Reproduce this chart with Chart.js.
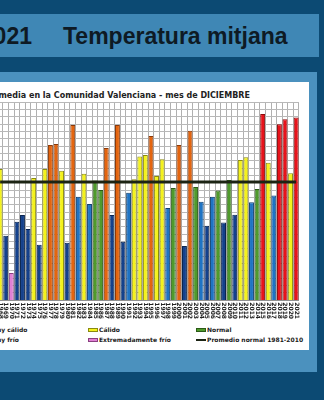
<!DOCTYPE html>
<html>
<head>
<meta charset="utf-8">
<script src="https://cdn.jsdelivr.net/npm/chart.js@4.4.1/dist/chart.umd.min.js"></script>
<style>
  html, body { margin: 0; padding: 0; }
  body { width: 324px; height: 400px; overflow: hidden; position: relative; background: #0c4a73; font-family: "DejaVu Sans", sans-serif; }
  #band { position: absolute; left: 0; top: 14px; width: 319px; height: 43px; background: #3f87b5; }
  .big { position: absolute; top: 25px; font-family: "Liberation Sans Narrow", "Liberation Sans", sans-serif; font-weight: bold; font-size: 23px; line-height: 23px; color: #0e1a24; white-space: nowrap; }
  #panel { position: absolute; left: 0; top: 72px; width: 317px; height: 300px; background: #4b91be; }
  #box { position: absolute; left: 0; top: 82px; width: 309px; height: 268px; background: #fff; }
  #ctitle { position: absolute; right: 74px; top: 91px; font-size: 8px; line-height: 9px; font-weight: bold; color: #222; white-space: nowrap; }
  #wrap { position: absolute; left: -20px; top: 83px; width: 328px; height: 242px; }
  .leg { position: absolute; font-size: 6px; line-height: 8px; font-weight: bold; color: #1a1a1a; white-space: nowrap; }
  .sw { display: inline-block; width: 10px; height: 4px; margin-right: 1px; vertical-align: middle; box-sizing: border-box; }
</style>
</head>
<body>
<div id="band"></div>
<div class="big" style="right:292px">2021</div>
<div class="big" style="left:63px">Temperatura mitjana</div>
<div id="panel"></div>
<div id="box"></div>
<div id="ctitle">Temperatura media en la Comunidad Valenciana - mes de DICIEMBRE</div>
<div id="wrap"><canvas id="chart" width="328" height="242"></canvas></div>
<div id="legend"></div>
<script>
const years = [1968, 1969, 1970, 1971, 1972, 1973, 1974, 1975, 1976, 1977,
  1978, 1979, 1980, 1981, 1982, 1983, 1984, 1985, 1986, 1987,
  1988, 1989, 1990, 1991, 1992, 1993, 1994, 1995, 1996, 1997,
  1998, 1999, 2000, 2001, 2002, 2003, 2004, 2005, 2006, 2007,
  2008, 2009, 2010, 2011, 2012, 2013, 2014, 2015, 2016, 2017,
  2018, 2019, 2020, 2021];

// December mean temperature
const temps = [10.47, 8.19, 6.92, 8.67, 8.90, 8.42, 10.16, 7.88, 10.47, 11.28,
  11.32, 10.41, 7.95, 11.97, 9.52, 10.30, 9.27, 10.07, 9.75, 11.18,
  8.90, 11.97, 7.99, 9.66, 10.12, 10.89, 10.94, 11.59, 10.23, 10.80,
  9.14, 9.82, 11.28, 7.84, 11.77, 9.85, 9.35, 8.53, 9.52, 9.73,
  8.64, 10.09, 8.91, 10.77, 10.87, 9.33, 9.78, 12.34, 10.68, 9.56,
  11.99, 12.16, 10.32, 12.22];

const classes = ['C', 'MF', 'EF', 'MF', 'MF', 'MF', 'C', 'MF', 'C', 'MC',
  'MC', 'C', 'MF', 'MC', 'F', 'C', 'F', 'N', 'N', 'MC',
  'MF', 'MC', 'MF', 'F', 'C', 'C', 'C', 'MC', 'C', 'C',
  'F', 'N', 'MC', 'MF', 'MC', 'N', 'F', 'MF', 'F', 'N',
  'MF', 'N', 'MF', 'C', 'C', 'F', 'N', 'EC', 'C', 'F',
  'EC', 'EC', 'C', 'EC'];

const normalAvg = 10.02;

const classNames = {
  EC: 'Extremadamente cálido', MC: 'Muy cálido', C: 'Cálido', N: 'Normal',
  F: 'Frío', MF: 'Muy frío', EF: 'Extremadamente frío'
};
const fill = { EC: '#e8131b', MC: '#e4650f', C: '#f4f21c', N: '#4f9a2c', F: '#1f74c4', MF: '#14418c', EF: '#e07fd4' };
const edge = { EC: '#8a0a0a', MC: '#8a3a0a', C: '#8a8a10', N: '#2a5a16', F: '#0e3f70', MF: '#0a2550', EF: '#8a3f80' };

// legend, 4 columns x 2 rows (first column falls off the left edge)
const legendCols = [['EC', 'F'], ['MC', 'MF'], ['C', 'EF'], ['N', 'AVG']];
const legendEl = document.getElementById('legend');
legendCols.forEach((col, ci) => {
  col.forEach((key, ri) => {
    const item = document.createElement('div');
    item.className = 'leg';
    item.style.left = (-128 + ci * 108) + 'px';
    item.style.top = (325.5 + ri * 10) + 'px';
    const sw = document.createElement('span');
    sw.className = 'sw';
    if (key === 'AVG') {
      sw.style.height = '2px';
      sw.style.background = '#1c2414';
    } else {
      sw.style.background = fill[key];
      sw.style.border = '1px solid ' + edge[key];
    }
    item.appendChild(sw);
    item.appendChild(document.createTextNode(key === 'AVG' ? 'Promedio normal 1981-2010' : classNames[key]));
    legendEl.appendChild(item);
  });
});

const ctx = document.getElementById('chart');
new Chart(ctx, {
  data: {
    labels: years,
    datasets: [
      {
        type: 'line',
        label: 'Promedio normal 1981-2010',
        data: years.map(() => normalAvg),
        borderColor: '#1c2414',
        borderWidth: 3,
        pointRadius: 0,
        order: 0
      },
      {
        type: 'bar',
        label: 'Temperatura media',
        data: temps,
        backgroundColor: classes.map(c => fill[c]),
        borderColor: classes.map(c => edge[c]),
        borderWidth: 1,
        categoryPercentage: 1,
        barPercentage: 0.88,
        order: 1
      }
    ]
  },
  options: {
    responsive: false,
    animation: false,
    layout: { padding: { left: 17.35, right: 2.85, top: 19, bottom: 0 } },
    plugins: {
      legend: { display: false },
      title: { display: false },
      tooltip: { enabled: false }
    },
    scales: {
      x: {
        grid: { color: '#b0b0b0', lineWidth: 1, offset: true, drawTicks: false },
        border: { color: '#909090' },
        ticks: {
          autoSkip: false,
          minRotation: -90,
          maxRotation: -90,
          padding: 19,
          color: '#222',
          font: { family: 'DejaVu Sans', size: 6, weight: 'bold' }
        },
        afterFit: s => { s.height = 25; }
      },
      y: {
        min: 6,
        max: 12.75,
        ticks: { stepSize: 0.25, display: false },
        grid: { color: '#b8b8b8', drawTicks: false },
        border: { display: false },
        afterFit: s => { s.width = 0; }
      }
    }
  }
});
</script>
</body>
</html>
